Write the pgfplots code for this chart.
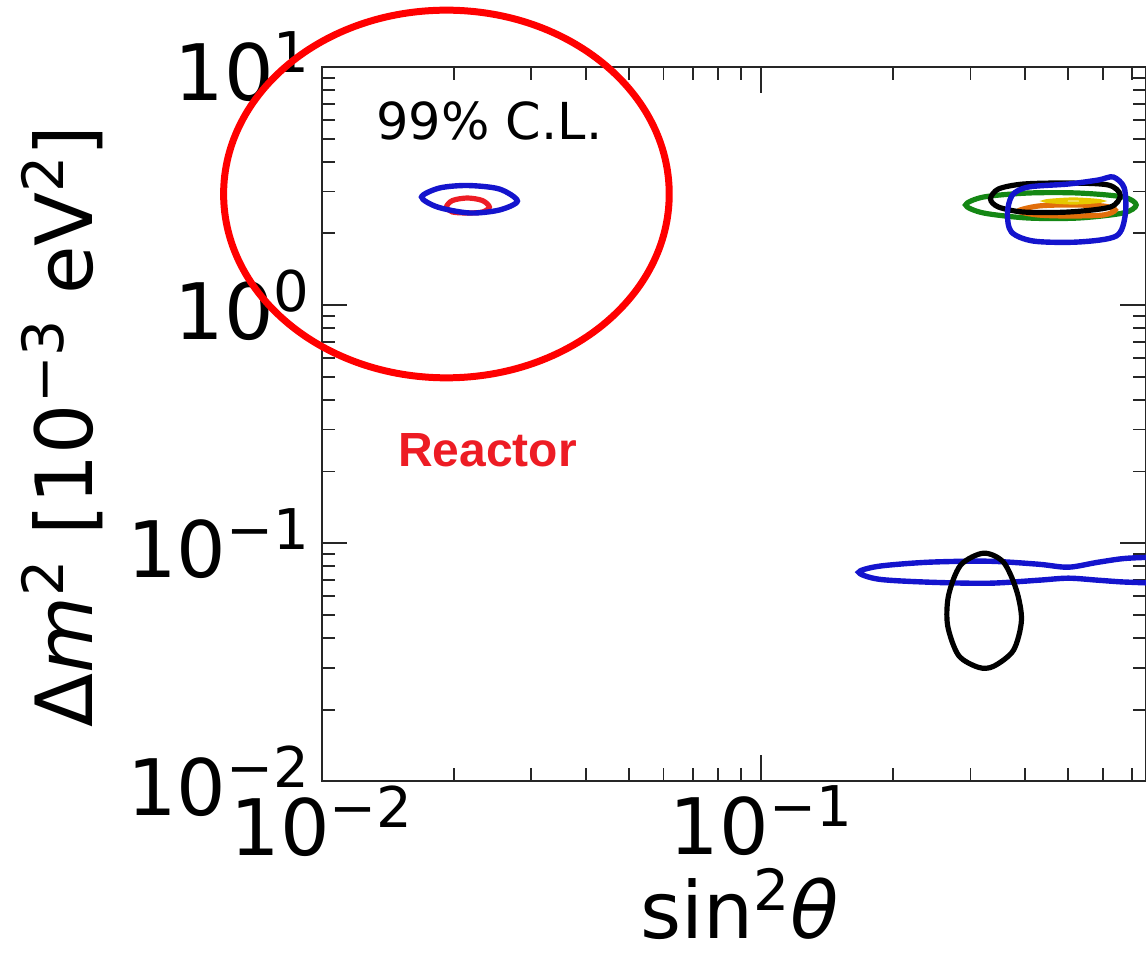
\documentclass[border=0pt]{standalone}
\usepackage{fontspec}
\setmainfont{DejaVu Sans}
\newfontfamily\arialfont{Liberation Sans}
\usepackage{graphicx}
\usepackage{pgfplots}
\pgfplotsset{compat=1.18}

\definecolor{cblue}{RGB}{20,20,205}
\definecolor{cgreen}{RGB}{20,135,20}
\definecolor{corange}{RGB}{225,110,10}
\definecolor{cyellow}{RGB}{230,200,0}
\definecolor{reactred}{RGB}{237,28,36}

% matplotlib-like superscript: 0.72 size, raised
\newcommand{\su}[1]{\raisebox{0.36em}{\scalebox{0.72}{#1}}}
\newcommand{\pw}[1]{10\su{#1}}

\begin{document}
\begin{tikzpicture}
\begin{axis}[
  name=ax,
  xmode=log, ymode=log,
  scale only axis,
  width=412.5pt, height=357.5pt,
  xmin=0.01, xmax=0.753,
  ymin=0.01, ymax=10,
  xtick={0.01,0.1},
  xticklabels={\pw{−2},\pw{−1}},
  ytick={0.01,0.1,1,10},
  yticklabels={\pw{−2},\pw{−1},\pw{0},\pw{1}},
  minor xtick={0.02,0.03,0.04,0.05,0.06,0.07,0.08,0.09,0.2,0.3,0.4,0.5,0.6,0.7},
  minor ytick={0.02,0.03,0.04,0.05,0.06,0.07,0.08,0.09,0.2,0.3,0.4,0.5,0.6,0.7,0.8,0.9,2,3,4,5,6,7,8,9},
  tick align=inside,
  major tick length=13pt, minor tick length=6.5pt,
  every tick/.style={black!85, line width=0.9pt},
  axis line style={black!85, line width=1.1pt},
  tick label style={font=\fontsize{39}{39}\selectfont, inner sep=0pt},
  yticklabel style={xshift=-6pt},
  xticklabel style={yshift=-2pt},
  xlabel={sin\su{2}\textit{θ}},
  ylabel={Δ\textit{m}\su{2} [10\su{−3} eV\su{2}]},
  label style={font=\fontsize{39.5}{39.5}\selectfont},
  xlabel style={at={(axis description cs:0.507,-0.172)}, anchor=center},
  ylabel style={at={(axis description cs:-0.315,0.497)}, anchor=center, rotate=0},
]

% reactor
\addplot[reactred, line width=2.6pt, smooth cycle] coordinates {
  (0.01923,2.581) (0.01985,2.748) (0.02147,2.816) (0.02322,2.748)
  (0.02409,2.581) (0.02322,2.459) (0.02147,2.436) (0.01985,2.459)
};
\addplot[cblue, line width=2.7pt, smooth cycle] coordinates {
  (0.01688,2.843) (0.01854,3.101) (0.02147,3.178) (0.02538,3.072)
  (0.0279,2.735) (0.02538,2.507) (0.0217,2.436) (0.01835,2.581)
};

% atmospheric / accelerator cluster
\addplot[cgreen, line width=2.6pt, smooth cycle] coordinates {
  (0.2924,2.632) (0.3213,2.843) (0.4065,2.955) (0.5281,2.955) (0.6683,2.843)
  (0.7154,2.632) (0.6683,2.436) (0.5281,2.32) (0.4065,2.32) (0.3213,2.436)
};
\addplot[corange, line width=2.6pt, smooth cycle] coordinates {
  (0.3859,2.483) (0.4283,2.606) (0.5012,2.632) (0.6019,2.606)
  (0.641,2.507) (0.6019,2.389) (0.5012,2.366) (0.4283,2.389)
};
\addplot[cyellow, line width=1.6pt, smooth cycle] coordinates {
  (0.4443,2.735) (0.5145,2.789) (0.5957,2.735) (0.5145,2.683)
};
\addplot[black, line width=2.6pt, smooth cycle] coordinates {
  (0.3332,2.789) (0.3474,3.072) (0.3961,3.224) (0.5012,3.255) (0.6179,3.193)
  (0.6579,2.899) (0.6244,2.581) (0.5012,2.459) (0.3961,2.459) (0.3474,2.581)
};
\addplot[cblue, line width=2.7pt, smooth cycle] coordinates {
  (0.3642,2.436) (0.3738,2.899) (0.4065,3.131) (0.5012,3.224) (0.5864,3.351)
  (0.6343,3.450) (0.6719,3.101) (0.6753,2.389) (0.6443,1.950) (0.5281,1.840)
  (0.4173,1.857) (0.3719,2.026)
};

% solar / KamLAND region
\addplot[cblue, line width=2.7pt, smooth cycle] coordinates {
  (0.167,0.0755) (0.1854,0.0800) (0.2409,0.0832) (0.3298,0.0840) (0.4283,0.0816)
  (0.5012,0.0793) (0.5864,0.0832) (0.6861,0.0865) (0.846,0.0865) (0.9897,0.0770)
  (0.846,0.0686) (0.6861,0.0686) (0.5864,0.0699) (0.5012,0.0713) (0.4283,0.0699)
  (0.3298,0.0679) (0.2409,0.0686) (0.1854,0.0706)
};
\addplot[black, line width=2.6pt, smooth cycle] coordinates {
  (0.3213,0.0908) (0.3567,0.0832) (0.3818,0.0635) (0.392,0.0475) (0.3758,0.0355)
  (0.3385,0.0304) (0.313,0.0301) (0.2818,0.0338) (0.2661,0.0452) (0.2675,0.0605)
  (0.2848,0.0808)
};

\node[font=\fontsize{25.5}{25.5}\selectfont, inner sep=0pt] at (axis cs:0.0241,5.93) {99\% C.L.};
\node[font=\arialfont\bfseries\fontsize{24}{24}\selectfont, text=reactred, inner sep=0pt] at (axis cs:0.02384,0.246) {Reactor};
\coordinate (ec) at (axis cs:0.01923,2.927);
\end{axis}
\draw[red, line width=3.5pt] (ec) ellipse [x radius=111.5pt, y radius=92pt];
\pgfresetboundingbox
\path[use as bounding box] ([xshift=-161pt,yshift=-90pt]ax.south west) rectangle ([yshift=33.5pt]ax.north east);
\end{tikzpicture}
\end{document}
